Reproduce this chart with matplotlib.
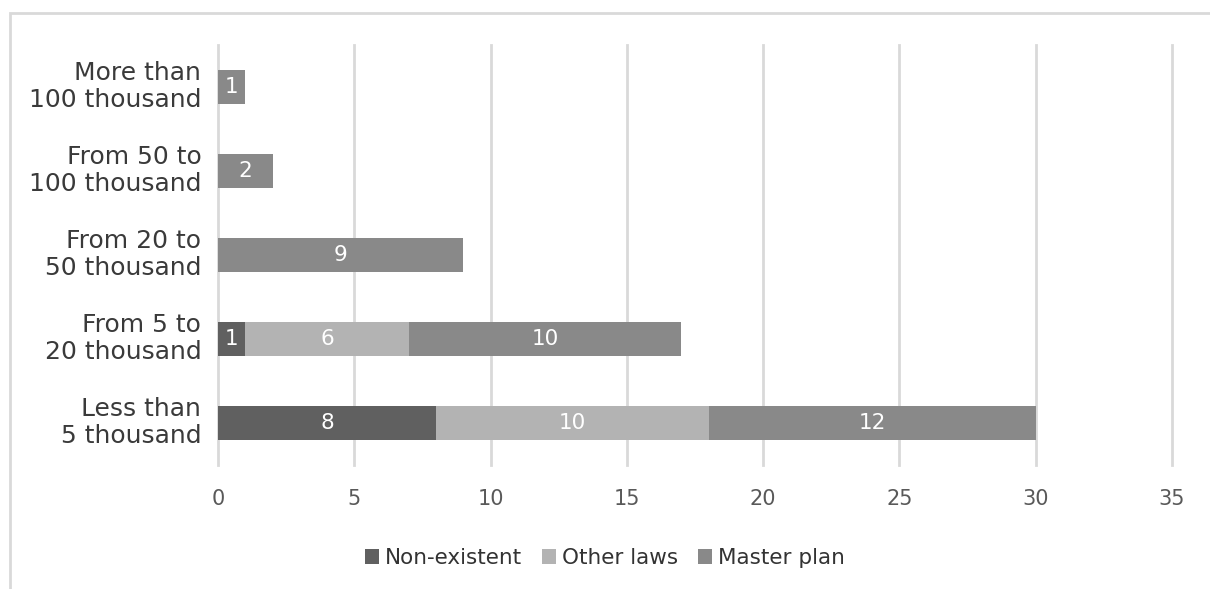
import matplotlib
matplotlib.use('Agg')
import matplotlib.pyplot as plt
import matplotlib.transforms as mtransforms
import numpy as np
from matplotlib.patches import Rectangle

plt.rcParams['font.family'] = ['DejaVu Sans']

# categories from bottom to top
categories = ['Less than\n5 thousand', 'From 5 to\n20 thousand', 'From 20 to\n50 thousand',
              'From 50 to\n100 thousand', 'More than\n100 thousand']
non_existent = [8, 1, 0, 0, 0]
other_laws = [10, 6, 0, 0, 0]
master_plan = [12, 10, 9, 2, 1]
series_names = ['Non-existent', 'Other laws', 'Master plan']
colors = ['#606060', '#b3b3b3', '#898989']

fig = plt.figure(figsize=(12.1, 5.89), dpi=100)
ax = fig.add_axes([218 / 1210, 1 - 465 / 589, (1172 - 218) / 1210, (465 - 45) / 589])

# outer light frame (top and left edges visible)
fig.patches.append(Rectangle((10 / 1210, -0.1), 1.2, 1 - 13 / 589 + 0.1, transform=fig.transFigure,
                             fill=False, edgecolor='#d9d9d9', linewidth=2))

y = np.arange(len(categories))
left = np.zeros(len(categories))
for vals, name, c in zip([non_existent, other_laws, master_plan], series_names, colors):
    vals = np.array(vals)
    bars = ax.barh(y, vals, left=left, height=0.4, color=c, label=name, zorder=3)
    for b, v in zip(bars, vals):
        if v > 0:
            ax.text(b.get_x() + b.get_width() / 2, b.get_y() + b.get_height() / 2, str(v),
                    ha='center', va='center', color='white', fontsize=15.5, zorder=4)
    left += vals

ax.set_xlim(0, 35)
ax.set_ylim(-0.5, 4.5)
ax.set_xticks(range(0, 36, 5))
ax.set_yticks(y)
ax.set_yticklabels(categories, fontsize=18, color='#3a3a3a', ha='right', linespacing=1.2)
ax.tick_params(axis='x', length=0, pad=17, labelsize=15, labelcolor='#595959')
ax.tick_params(axis='y', length=0, pad=12)
ax.grid(axis='x', color='#d9d9d9', linewidth=2, zorder=0)
for gl in ax.get_xgridlines():
    gl.set_clip_on(False)
for s in ax.spines.values():
    s.set_visible(False)

# nudge category labels up a little
shift = mtransforms.ScaledTranslation(0, 5 / 100, fig.dpi_scale_trans)
for lab in ax.get_yticklabels():
    lab.set_transform(lab.get_transform() + shift)

fig.legend(loc='center', bbox_to_anchor=(605 / 1210, 1 - 558 / 589), ncol=3, frameon=False,
           fontsize=15.5, handlelength=0.65, handleheight=0.65, handletextpad=0.3, columnspacing=0.9,
           labelcolor='#333333')

fig.savefig('out.png', dpi=100)
